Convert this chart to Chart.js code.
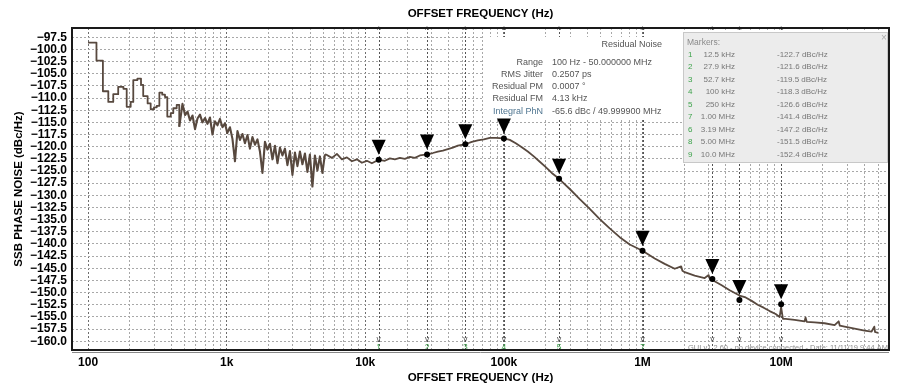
<!DOCTYPE html>
<html>
<head>
<meta charset="utf-8">
<script src="https://cdn.jsdelivr.net/npm/chart.js@4.4.1/dist/chart.umd.min.js"></script>
<style>
  html, body { margin: 0; padding: 0; background: #fff; }
  #wrap { width: 899px; height: 385px; }
</style>
</head>
<body>
<div id="wrap"><canvas id="phaseNoiseChart" width="899" height="385"></canvas></div>
<script>
// lowest offsets: coarse stepped trace (Hz, dBc/Hz)
const stepBandFreq = [100, 115, 128, 140, 152, 165, 180, 190, 203, 212, 227, 241, 250, 269, 283, 299, 313, 327, 343, 359,
  373, 395, 412, 436, 455];
const stepBandNoise = [-98.6, -102.3, -108.6, -110.8, -109.2, -107.7, -108.1, -111.8, -110.8, -106.3, -106.0, -107.3, -109.6, -111.1, -112.3, -111.9, -111.6, -108.9, -109.3, -109.8,
  -113.8, -113.1, -112.1, -111.4, -115.9];

// noisy part, ~450 Hz to 5 kHz
const noisyBandFreq = [455, 480, 501, 522, 544, 567, 591, 616, 642, 669, 698, 727, 758, 790, 823, 858,
  895, 933, 972, 1010, 1056, 1101, 1148, 1196, 1247, 1300, 1355, 1413, 1472, 1535, 1600, 1668, 1738, 1812, 1889, 1969,
  2053, 2140, 2230, 2325, 2423, 2526, 2633, 2744, 2860, 2982, 3108, 3240, 3377, 3520, 3669, 3824, 3986, 4155, 4331, 4515,
  4707, 4906, 5114];
const noisyBandNoise = [-115.9, -111.2, -113.5, -112.8, -114.6, -113.6, -116.4, -114.2, -113.4, -115.0, -114.1, -115.3, -114.0, -117.5, -114.8, -115.6,
  -114.3, -116.0, -115.2, -117.2, -116.0, -118.4, -123.0, -116.8, -118.6, -117.4, -119.3, -117.6, -120.4, -118.0, -119.6, -118.5, -121.0, -125.4, -119.0, -120.6,
  -119.4, -122.6, -119.8, -123.4, -120.2, -121.8, -120.4, -123.8, -120.9, -125.8, -121.2, -124.0, -121.0, -123.6, -121.4, -125.2, -121.6, -128.2, -121.8, -124.9,
  -122.0, -125.4, -121.6];

// higher offsets: smooth part of the trace
const highBandFreq = [5114, 5286, 5742, 6240, 6782, 7370, 8008, 8700, 9452, 10270, 11160, 12500, 13850, 15050, 16350, 17770, 19300, 20970, 22790, 24760,
  27900, 30720, 33380, 36270, 39400, 42820, 46520, 52700, 58690, 64830, 71630, 79130, 87420, 100000, 110300, 121800, 134600, 148700, 164300, 181500,
  200500, 221500, 250000, 298600, 352600, 416300, 491400, 580000, 684800, 808600, 1000000, 1225000, 1445000, 1707000, 1900000, 1940000, 2016000, 2379000, 2809000, 3000000,
  3060000, 3190000, 3724000, 4254000, 4858000, 5000000, 5548000, 6129000, 6770000, 7478000, 8262000, 9129000, 9754000, 10000000, 10300000, 10780000, 12510000, 14770000, 15000000, 15300000,
  17440000, 20590000, 24310000, 26000000, 26500000, 28700000, 33880000, 40000000, 44940000, 47000000, 47600000, 50000000];
const highBandNoise = [-121.6, -121.7, -122.3, -121.5, -122.6, -122.2, -123.0, -122.6, -123.3, -122.9, -123.4, -122.7, -122.9, -122.4, -122.6, -122.3, -122.5, -122.1, -122.3, -121.8,
  -121.6, -121.3, -121.0, -120.8, -120.5, -120.2, -119.8, -119.5, -119.0, -118.7, -118.5, -118.2, -118.2, -118.3, -118.6, -119.3, -120.1, -121.0, -122.0, -123.1,
  -124.2, -125.4, -126.6, -128.7, -130.8, -132.8, -134.9, -136.8, -138.6, -140.1, -141.4, -143.0, -144.1, -145.1, -144.6, -145.5, -145.8, -146.5, -147.0, -146.4,
  -147.2, -147.4, -148.5, -149.5, -150.4, -150.6, -151.0, -151.7, -152.5, -153.1, -153.8, -154.4, -155.0, -153.0, -155.4, -155.4, -155.6, -155.9, -155.1, -156.0,
  -156.1, -156.3, -156.7, -155.9, -156.8, -157.0, -157.4, -157.8, -158.0, -157.0, -158.1, -158.3];

// marker table
const markerIds = ['1', '2', '3', '4', '5', '7', '6', '8', '9'];
const markerFreqs = [12.5e3, 27.9e3, 52.7e3, 100e3, 250e3, 1.00e6, 3.19e6, 5.00e6, 10.0e6];
const markerFreqText = ['12.5 kHz', '27.9 kHz', '52.7 kHz', '100 kHz', '250 kHz', '1.00 MHz', '3.19 MHz', '5.00 MHz', '10.0 MHz'];
const markerValues = [-122.7, -121.6, -119.5, -118.3, -126.6, -141.4, -147.2, -151.5, -152.4];

// residual noise summary
const residualLabels = ['Range', 'RMS Jitter', 'Residual PM', 'Residual FM', 'Integral PhN'];
const residualValues = ['100 Hz - 50.000000 MHz', '0.2507 ps', '0.0007 \u00b0', '4.13 kHz', '-65.6 dBc / 49.999900 MHz'];

// axes
const xTickVals = [100, 1e3, 1e4, 1e5, 1e6, 1e7];
const xTickLabels = ['100', '1k', '10k', '100k', '1M', '10M'];
const xMinorMults = [1, 2, 3, 4, 5, 6, 7, 8, 9];
const yTicks = [-97.5, -100, -102.5, -105, -107.5, -110, -112.5, -115, -117.5, -120, -122.5, -125, -127.5, -130,
  -132.5, -135, -137.5, -140, -142.5, -145, -147.5, -150, -152.5, -155, -157.5, -160];

const X_MIN = 76.6;
const X_MAX = 60e6;
const FONT = '"Liberation Sans", Arial, Helvetica, sans-serif';
const TRACE = '#58493f';
const guiText = 'GUI v1.2.60 - no device connected - Date: 11/11/19 9:44 AM';

const toPoints = (xs, ys) => xs.map((f, i) => ({ x: f, y: ys[i] }));

const xGridVals = [];
xTickVals.forEach((d) => xMinorMults.forEach((m) => {
  const v = d * m;
  if (v >= X_MIN && v <= X_MAX) xGridVals.push(v);
}));

const isDecade = (v) => xTickVals.some((t) => Math.abs(t - v) < 1e-6 * t);

const overlayPlugin = {
  id: 'overlay',
  beforeDatasetsDraw(chart) {
    const { ctx, chartArea: a, scales: { x } } = chart;
    ctx.save();

    // dashed marker lines
    ctx.strokeStyle = '#555';
    ctx.lineWidth = 1;
    ctx.setLineDash([2, 2]);
    markerFreqs.forEach((f) => {
      const px = Math.round(x.getPixelForValue(f)) + 0.5;
      ctx.beginPath();
      ctx.moveTo(px, a.top);
      ctx.lineTo(px, a.bottom);
      ctx.stroke();
    });
    ctx.setLineDash([]);

    // residual noise panel
    ctx.fillStyle = '#fff';
    ctx.fillRect(484, 37, 198, 81);
    ctx.font = '9px ' + FONT;
    ctx.textBaseline = 'middle';
    ctx.fillStyle = '#555';
    ctx.textAlign = 'right';
    ctx.fillText('Residual Noise', 662, 45);
    residualLabels.forEach((label, i) => {
      const yy = 62.7 + i * 12.1;
      ctx.textAlign = 'right';
      ctx.fillStyle = label === 'Integral PhN' ? '#4f7590' : '#555';
      ctx.fillText(label, 543, yy);
      ctx.textAlign = 'left';
      ctx.fillStyle = '#555';
      ctx.fillText(residualValues[i], 552, yy);
    });

    // markers panel
    ctx.fillStyle = '#ececec';
    ctx.fillRect(683, 32, 205, 131);
    ctx.strokeStyle = '#c8c8c8';
    ctx.strokeRect(683.5, 32.5, 204, 130);
    ctx.font = '8.5px ' + FONT;
    ctx.fillStyle = '#8a8a8a';
    ctx.textAlign = 'left';
    ctx.fillText('Markers:', 687, 43);
    ctx.font = '10px ' + FONT;
    ctx.fillStyle = '#aaa';
    ctx.textAlign = 'center';
    ctx.fillText('\u00d7', 884, 38);
    ctx.font = '8px ' + FONT;
    markerIds.forEach((id, i) => {
      const yy = 54.3 + i * 12.55;
      ctx.textAlign = 'left';
      ctx.fillStyle = '#3fa34d';
      ctx.fillText(id, 688, yy);
      ctx.fillStyle = '#777';
      ctx.textAlign = 'right';
      ctx.fillText(markerFreqText[i], 735, yy);
      ctx.textAlign = 'left';
      ctx.fillText(markerValues[i].toFixed(1) + ' dBc/Hz', 777, yy);
    });
    ctx.restore();
  },
  afterDatasetsDraw(chart) {
    const { ctx, chartArea: a, scales: { x, y } } = chart;
    ctx.save();

    // marker triangles
    ctx.fillStyle = '#000';
    markerFreqs.forEach((f, i) => {
      const px = x.getPixelForValue(f);
      const py = y.getPixelForValue(markerValues[i]);
      ctx.beginPath();
      ctx.moveTo(px - 7, py - 20);
      ctx.lineTo(px + 7, py - 20);
      ctx.lineTo(px, py - 5);
      ctx.closePath();
      ctx.fill();
    });

    // small marker carets top and bottom, numbers below
    ctx.font = '8.5px ' + FONT;
    ctx.textAlign = 'center';
    ctx.textBaseline = 'middle';
    markerFreqs.forEach((f, i) => {
      const px = x.getPixelForValue(f);
      ctx.fillStyle = '#555';
      ctx.fillText('^', px, a.top + 3);
      ctx.fillText('v', px, a.bottom - 10);
      if (px < 686) {
        ctx.fillStyle = '#3fa34d';
        ctx.fillText(markerIds[i], px, a.bottom - 2);
      }
    });

    // software footer
    ctx.font = '8px ' + FONT;
    ctx.fillStyle = '#8c8c8c';
    ctx.textAlign = 'left';
    ctx.fillText(guiText, 688, a.bottom - 2, 200);

    // frame
    ctx.strokeStyle = '#1a1a1a';
    ctx.lineWidth = 2;
    ctx.strokeRect(a.left, a.top, a.width, a.height);
    ctx.strokeStyle = '#888';
    ctx.lineWidth = 1;
    ctx.beginPath();
    ctx.moveTo(a.left, a.bottom + 2.5);
    ctx.lineTo(a.right, a.bottom + 2.5);
    ctx.stroke();
    ctx.restore();
  },
};

const axisFont = { family: FONT, size: 12, weight: 'bold' };
const titleFont = { family: FONT, size: 11.5, weight: 'bold' };
const traceStyle = { borderColor: TRACE, borderWidth: 1.8, borderJoinStyle: 'round', pointRadius: 0, tension: 0 };

new Chart(document.getElementById('phaseNoiseChart'), {
  type: 'line',
  data: {
    datasets: [
      {
        label: 'Markers',
        data: toPoints(markerFreqs, markerValues),
        showLine: false,
        pointRadius: 3,
        pointBackgroundColor: '#000',
        pointBorderWidth: 0,
      },
      { label: 'Residual noise (steps)', data: toPoints(stepBandFreq, stepBandNoise), stepped: true, ...traceStyle },
      { label: 'Residual noise (noisy)', data: toPoints(noisyBandFreq, noisyBandNoise), ...traceStyle, borderWidth: 2.1 },
      { label: 'Residual noise', data: toPoints(highBandFreq, highBandNoise), ...traceStyle },
    ],
  },
  options: {
    responsive: false,
    animation: false,
    events: [],
    layout: { padding: { left: 0, right: 10, top: 0, bottom: 0 } },
    plugins: {
      legend: { display: false },
      tooltip: { enabled: false },
      title: {
        display: true,
        text: 'OFFSET FREQUENCY (Hz)',
        fullSize: false,
        color: '#000',
        font: titleFont,
        padding: { top: 6.8, bottom: 7.4 },
      },
    },
    scales: {
      x: {
        type: 'logarithmic',
        min: X_MIN,
        max: X_MAX,
        afterBuildTicks: (s) => { s.ticks = xGridVals.map((v) => ({ value: v })); },
        afterFit: (s) => { s.height = 35; },
        ticks: {
          autoSkip: false,
          maxRotation: 0,
          padding: 5.5,
          color: '#000',
          font: axisFont,
          callback: (v) => {
            const i = xTickVals.findIndex((t) => Math.abs(t - v) < 1e-6 * t);
            return i >= 0 ? xTickLabels[i] : '';
          },
        },
        grid: {
          drawTicks: false,
          lineWidth: 1,
          color: (c) => (c.tick && isDecade(c.tick.value) ? '#6e6e6e' : '#a8a8a8'),
        },
        border: { display: false, dash: [2, 2] },
        title: {
          display: true,
          text: 'OFFSET FREQUENCY (Hz)',
          color: '#000',
          font: titleFont,
          padding: { top: 0, bottom: 0 },
        },
      },
      y: {
        min: -161.8,
        max: -95.6,
        afterBuildTicks: (s) => { s.ticks = yTicks.map((v) => ({ value: v })); },
        afterFit: (s) => { s.width = 72; },
        ticks: {
          autoSkip: false,
          padding: 5,
          color: '#000',
          font: axisFont,
          callback: (v) => (v < 0 ? '\u2212' : '') + Math.abs(v).toFixed(1),
        },
        grid: { drawTicks: false, lineWidth: 1, color: '#a8a8a8' },
        border: { display: false, dash: [2, 2] },
        title: {
          display: true,
          text: 'SSB PHASE NOISE (dBc/Hz)',
          color: '#000',
          font: titleFont,
          padding: { top: 12, bottom: 0 },
        },
      },
    },
  },
  plugins: [overlayPlugin],
});
</script>
</body>
</html>
